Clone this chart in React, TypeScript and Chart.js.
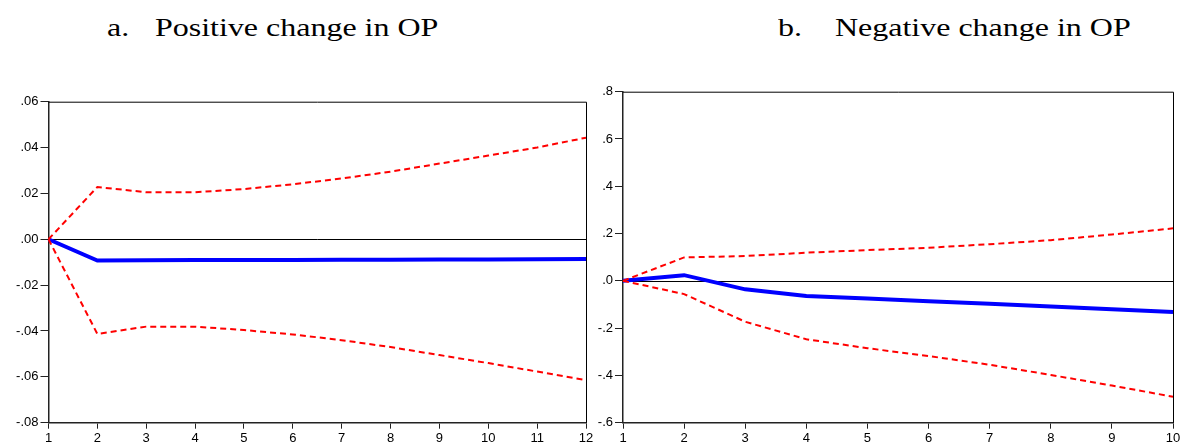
import React, { useEffect, useRef } from "react";
import { Chart, registerables } from "chart.js";

Chart.register(...registerables);

// ---------- Data ----------
const periodsA = ["1", "2", "3", "4", "5", "6", "7", "8", "9", "10", "11", "12"];
const responseA = [0, -0.0093, -0.0091, -0.009, -0.009, -0.009, -0.0089, -0.0089, -0.0088, -0.0088, -0.0087, -0.0086];
const upperA = [0, 0.0228, 0.0205, 0.0205, 0.0219, 0.024, 0.0265, 0.0295, 0.033, 0.0365, 0.04, 0.0443];
const lowerA = [0, -0.0413, -0.0381, -0.0381, -0.0396, -0.0415, -0.044, -0.047, -0.0505, -0.054, -0.0577, -0.0614];
const yTicksA = [-0.08, -0.06, -0.04, -0.02, 0, 0.02, 0.04, 0.06];
const yTickLabelsA = ["-.08", "-.06", "-.04", "-.02", ".00", ".02", ".04", ".06"];

const periodsB = ["1", "2", "3", "4", "5", "6", "7", "8", "9", "10"];
const responseB = [0, 0.024, -0.036, -0.064, -0.075, -0.086, -0.097, -0.108, -0.12, -0.132];
const upperB = [0, 0.099, 0.105, 0.119, 0.13, 0.14, 0.155, 0.172, 0.196, 0.222];
const lowerB = [0, -0.056, -0.173, -0.247, -0.285, -0.318, -0.355, -0.398, -0.443, -0.49];
const yTicksB = [-0.6, -0.4, -0.2, 0, 0.2, 0.4, 0.6, 0.8];
const yTickLabelsB = ["-.6", "-.4", "-.2", ".0", ".2", ".4", ".6", ".8"];

const titleA = ["a.", "Positive change in OP"];
const titleB = ["b.", "Negative change in OP"];

// ---------- Chart helpers ----------
const framePlugin = {
  id: "frameAndZero",
  beforeDatasetsDraw(chart: any) {
    const { ctx, chartArea, scales } = chart;
    const y0 = scales.y.getPixelForValue(0);
    ctx.save();
    ctx.strokeStyle = "#000";
    ctx.lineWidth = 1;
    ctx.beginPath();
    ctx.moveTo(chartArea.left, Math.round(y0) + 0.5);
    ctx.lineTo(chartArea.right, Math.round(y0) + 0.5);
    ctx.stroke();
    ctx.restore();
  },
  afterDraw(chart: any) {
    const { ctx, chartArea } = chart;
    ctx.save();
    ctx.strokeStyle = "#000";
    ctx.lineWidth = 1;
    ctx.beginPath();
    ctx.moveTo(chartArea.left, chartArea.top + 0.5);
    ctx.lineTo(chartArea.right + 0.5, chartArea.top + 0.5);
    ctx.lineTo(chartArea.right + 0.5, chartArea.bottom);
    ctx.stroke();
    ctx.restore();
  },
};

function makeConfig(
  labels: string[],
  resp: number[],
  up: number[],
  lo: number[],
  ticks: number[],
  tickLabels: string[],
  yWidth: number,
  padTop: number,
  padRight: number,
  xHeight: number
): any {
  const tickFont = { family: "'Liberation Sans', Arial, sans-serif", size: 13 };
  return {
    type: "line",
    data: {
      labels,
      datasets: [
        { data: up, borderColor: "#ff0000", borderWidth: 2, borderDash: [6, 4], pointRadius: 0, tension: 0, fill: false },
        { data: lo, borderColor: "#ff0000", borderWidth: 2, borderDash: [6, 4], pointRadius: 0, tension: 0, fill: false },
        { data: resp, borderColor: "#0000ff", borderWidth: 4, pointRadius: 0, tension: 0, fill: false },
      ],
    },
    options: {
      animation: false,
      responsive: false,
      maintainAspectRatio: false,
      devicePixelRatio: 1,
      layout: { padding: { left: 0, top: padTop, right: padRight, bottom: 0 } },
      plugins: { legend: { display: false }, tooltip: { enabled: false }, title: { display: false } },
      scales: {
        x: {
          type: "category",
          offset: false,
          grid: { display: true, drawOnChartArea: false, drawTicks: true, tickLength: 6, color: "#222", lineWidth: 1 },
          border: { display: true, color: "#222", width: 1.5 },
          ticks: { color: "#000", font: tickFont, padding: 2, autoSkip: false, maxRotation: 0, minRotation: 0 },
          afterFit(scale: any) {
            scale.height = xHeight;
            scale.paddingLeft = 0;
            scale.paddingRight = 0;
          },
        },
        y: {
          type: "linear",
          min: ticks[0],
          max: ticks[ticks.length - 1],
          afterBuildTicks(scale: any) {
            scale.ticks = ticks.map((v) => ({ value: v }));
          },
          grid: { display: true, drawOnChartArea: false, drawTicks: true, tickLength: 8, color: "#222", lineWidth: 1 },
          border: { display: true, color: "#222", width: 1.5 },
          ticks: {
            color: "#000",
            font: tickFont,
            padding: 2,
            callback: (_v: any, i: number) => tickLabels[i],
          },
          afterFit(scale: any) {
            scale.width = yWidth;
            scale.paddingTop = 0;
            scale.paddingBottom = 0;
          },
        },
      },
    },
    plugins: [framePlugin],
  };
}

function LineChart(props: { config: any; left: number; width: number; height: number }) {
  const ref = useRef<HTMLCanvasElement | null>(null);
  useEffect(() => {
    if (!ref.current) return;
    const chart = new Chart(ref.current, props.config);
    return () => chart.destroy();
  }, []);
  return (
    <canvas
      ref={ref}
      width={props.width}
      height={props.height}
      style={{ position: "absolute", left: props.left, top: 0, width: props.width, height: props.height }}
    />
  );
}

const titleStyle: React.CSSProperties = {
  position: "absolute",
  top: 15,
  fontFamily: "'Liberation Serif', 'Times New Roman', serif",
  fontSize: 26,
  lineHeight: "26px",
  color: "#000",
  whiteSpace: "nowrap",
  transform: "scaleX(1.23)",
  transformOrigin: "left center",
};

export default function App() {
  const H = 443;
  const cfgA = makeConfig(periodsA, responseA, upperA, lowerA, yTicksA, yTickLabelsA, 48.5, 101.7, 10, H - 422.7);
  const cfgB = makeConfig(periodsB, responseB, upperB, lowerB, yTicksB, yTickLabelsB, 33, 91.7, 8, H - 422.7);
  return (
    <div style={{ position: "absolute", left: 0, top: 0, width: 1181, height: H, overflow: "hidden", background: "#fff" }}>
      <div style={{ ...titleStyle, left: 107 }}>{titleA[0]}</div>
      <div style={{ ...titleStyle, left: 155 }}>{titleA[1]}</div>
      <div style={{ ...titleStyle, left: 778 }}>{titleB[0]}</div>
      <div style={{ ...titleStyle, left: 835 }}>{titleB[1]}</div>
      <LineChart config={cfgA} left={0} width={596} height={H} />
      <LineChart config={cfgB} left={590} width={591} height={H} />
    </div>
  );
}
